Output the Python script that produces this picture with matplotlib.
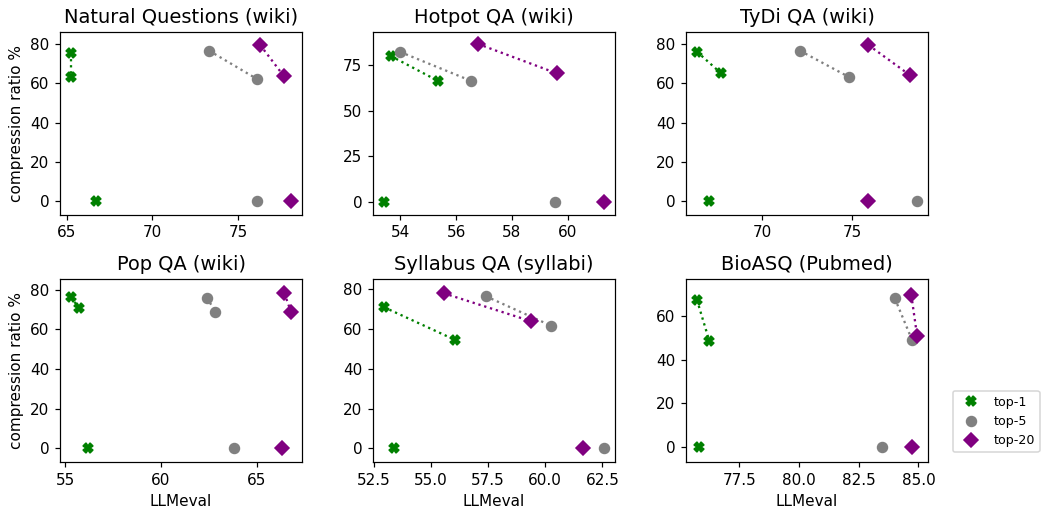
import matplotlib
matplotlib.use("Agg")
import matplotlib.pyplot as plt
from matplotlib.lines import Line2D

titles = ["Natural Questions (wiki)", "Hotpot QA (wiki)", "TyDi QA (wiki)",
          "Pop QA (wiki)", "Syllabus QA (syllabi)", "BioASQ (Pubmed)"]
series_names = ["top-1", "top-5", "top-20"]
series_colors = ["green", "gray", "purple"]
series_markers = ["X", "o", "D"]

# Per dataset, per series: [uncompressed, compressed A, compressed B]
llmeval = [
    [[66.74, 65.25, 65.25], [76.1, 73.32, 76.09], [78.1, 76.3, 77.67]],
    [[53.41, 53.65, 55.35], [59.55, 53.99, 56.54], [61.3, 56.78, 59.6]],
    [[67.04, 66.38, 67.73], [78.6, 72.1, 74.8], [75.9, 75.9, 78.2]],
    [[56.21, 55.3, 55.72], [63.82, 62.4, 62.85], [66.35, 66.45, 66.8]],
    [[53.4, 52.95, 56.04], [62.57, 57.4, 60.26], [61.63, 55.56, 59.37]],
    [[75.79, 75.72, 76.24], [83.47, 84.01, 84.73], [84.71, 84.70, 84.94]],
]
compression = [
    [[0, 75.6, 63.3], [0, 76.6, 62.3], [0, 79.5, 63.8]],
    [[0, 80.1, 66.4], [0, 82.3, 66.4], [0, 86.7, 70.6]],
    [[0, 76.1, 65.0], [0, 76.6, 63.3], [0, 79.5, 64.2]],
    [[0, 76.3, 70.8], [0, 76.1, 68.8], [0, 78.3, 68.8]],
    [[0, 70.8, 54.5], [0, 76.3, 61.5], [0, 77.8, 63.8]],
    [[0, 67.3, 48.4], [0, 68.0, 49.0], [0, 69.6, 51.0]],
]
ylims = [(-7, 86.3), (-7, 93.4), (-7, 86.3), (-6.9, 85.5), (-6.8, 85.0), (-7, 77.0)]

DPI = 110
fig, axes = plt.subplots(2, 3, figsize=(1041 / DPI, 508 / DPI), dpi=DPI)
fig.subplots_adjust(left=0.0576, right=0.8915, bottom=0.0906, top=0.9376,
                    wspace=0.293, hspace=0.35)

MS = 6.5
for i, ax in enumerate(axes.flat):
    for j in range(3):
        xs = llmeval[i][j]
        ys = compression[i][j]
        ax.plot(xs[1:], ys[1:], linestyle=":", color=series_colors[j],
                linewidth=1.5, zorder=1)
        ax.plot(xs, ys, linestyle="none", marker=series_markers[j],
                color=series_colors[j], markersize=MS, zorder=2)
    ax.set_title(titles[i], fontsize=12.7)
    ax.set_ylim(*ylims[i])
    if i % 3 == 0:
        ax.set_ylabel("compression ratio %")
    if i >= 3:
        ax.set_xlabel("LLMeval")

handles = [Line2D([], [], linestyle="none", marker=m, color=c, markersize=MS, label=n)
           for m, c, n in zip(series_markers, series_colors, series_names)]
fig.legend(handles=handles, loc="lower right", bbox_to_anchor=(1.005, 0.097),
           fontsize=8.3)

fig.savefig("out.png", dpi=DPI)
